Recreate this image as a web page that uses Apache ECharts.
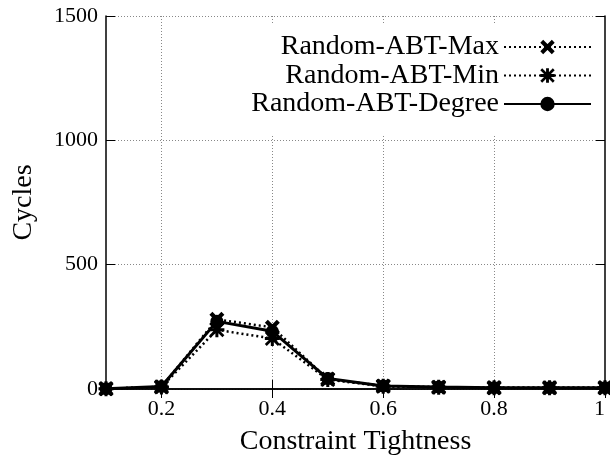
<!DOCTYPE html>
<html>
<head>
<meta charset="utf-8">
<script src="https://cdn.jsdelivr.net/npm/echarts@6/dist/echarts.min.js"></script>
<style>
html,body{margin:0;padding:0;background:#fff;}
#chart{width:610px;height:458px;}
</style>
</head>
<body>
<div id="chart"></div>
<script>
const categories = ['0.1','0.2','0.3','0.4','0.5','0.6','0.7','0.8','0.9','1'];
const maxCycles = [1, 9, 280, 248, 40, 12, 7, 5, 5, 5];
const minCycles = [1, 8, 238, 203, 38, 11, 7, 5, 5, 5];
const degreeCycles = [1, 10, 272, 232, 42, 12, 8, 5, 5, 5];
const yTicks = [0, 500, 1000, 1500];

const FONT = "'Liberation Serif', 'Times New Roman', serif";
const crossPath = 'path://M2,0L10,8L8,10L0,2ZM8,0L10,2L2,10L0,8Z';
const starPath = 'path://M0,4H10V6H0ZM4,0H6V10H4ZM1.3,0L10,8.7L8.7,10L0,1.3ZM8.7,0L10,1.3L1.3,10L0,8.7Z';
const everyOther = (i) => i % 2 === 1;

const chart = echarts.init(document.getElementById('chart'), null, {renderer: 'canvas'});
chart.setOption({
  animation: false,
  backgroundColor: '#fff',
  textStyle: {fontFamily: FONT, color: '#000'},
  grid: {left: 106, right: 5, top: 16, bottom: 69, containLabel: false, outerBoundsMode: 'none'},
  legend: {
    orient: 'vertical',
    align: 'right',
    right: 7,
    top: 25,
    padding: [8, 11, 16, 30],
    backgroundColor: '#fff',
    itemGap: 0.5,
    itemWidth: 87,
    itemHeight: 18,
    textStyle: {fontFamily: FONT, fontSize: 28, color: '#000', lineHeight: 28},
    data: ['Random-ABT-Max', 'Random-ABT-Min', 'Random-ABT-Degree']
  },
  xAxis: [{
    type: 'category',
    data: categories,
    boundaryGap: false,
    position: 'bottom',
    name: 'Constraint Tightness',
    nameLocation: 'middle',
    nameGap: 39,
    nameTextStyle: {fontFamily: FONT, fontSize: 28, color: '#000'},
    axisLine: {show: true, lineStyle: {color: '#000', width: 1.5}},
    axisTick: {show: true, inside: true, length: 9, interval: (i) => everyOther(i), lineStyle: {color: '#000', width: 1}},
    axisLabel: {show: true, interval: (i) => everyOther(i), margin: 9, fontFamily: FONT, fontSize: 22, color: '#000', alignMaxLabel: 'right'},
    splitLine: {show: true, interval: (i) => everyOther(i) && i < categories.length - 1, lineStyle: {color: '#888', width: 1, type: [1, 2]}}
  }, {
    type: 'category',
    data: categories,
    boundaryGap: false,
    position: 'top',
    axisLine: {show: true, lineStyle: {color: '#000', width: 1.5}},
    axisTick: {show: true, inside: true, length: 9, interval: (i) => everyOther(i), lineStyle: {color: '#000', width: 1}},
    axisLabel: {show: false},
    splitLine: {show: false}
  }],
  yAxis: [{
    type: 'value',
    min: yTicks[0],
    max: yTicks[yTicks.length - 1],
    interval: 500,
    position: 'left',
    name: 'Cycles',
    nameLocation: 'middle',
    nameGap: 68,
    nameTextStyle: {fontFamily: FONT, fontSize: 28, color: '#000'},
    axisLine: {show: true, lineStyle: {color: '#000', width: 1.5}},
    axisTick: {show: true, inside: true, length: 9, lineStyle: {color: '#000', width: 1}},
    axisLabel: {show: true, margin: 8, fontFamily: FONT, fontSize: 22, color: '#000', formatter: (v) => String(v)},
    splitLine: {show: true, lineStyle: {color: '#888', width: 1, type: [1, 2]}}
  }, {
    type: 'value',
    min: yTicks[0],
    max: yTicks[yTicks.length - 1],
    interval: 500,
    position: 'right',
    axisLine: {show: true, lineStyle: {color: '#000', width: 1.5}},
    axisTick: {show: true, inside: true, length: 9, lineStyle: {color: '#000', width: 1}},
    axisLabel: {show: false},
    splitLine: {show: false}
  }],
  series: [{
    name: 'Random-ABT-Max',
    type: 'line',
    data: maxCycles,
    symbol: crossPath,
    symbolSize: 15,
    showAllSymbol: true,
    itemStyle: {color: '#000'},
    lineStyle: {color: '#000', width: 2.5, type: [2, 3]},
    z: 3
  }, {
    name: 'Random-ABT-Min',
    type: 'line',
    data: minCycles,
    symbol: starPath,
    symbolSize: 15,
    showAllSymbol: true,
    itemStyle: {color: '#000'},
    lineStyle: {color: '#000', width: 2.5, type: [2, 3]},
    z: 4
  }, {
    name: 'Random-ABT-Degree',
    type: 'line',
    data: degreeCycles,
    symbol: 'circle',
    symbolSize: 13,
    showAllSymbol: true,
    itemStyle: {color: '#000'},
    lineStyle: {color: '#000', width: 3, type: 'solid'},
    z: 5
  }]
});
</script>
</body>
</html>
